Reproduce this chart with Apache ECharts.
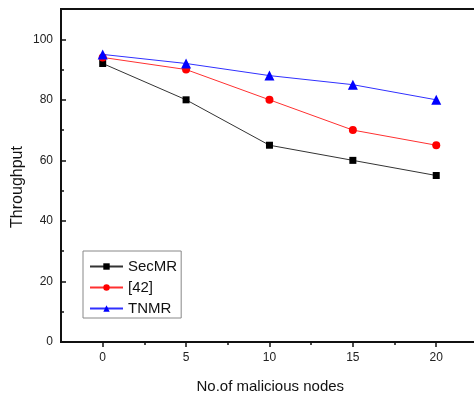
<!DOCTYPE html>
<html>
<head>
<meta charset="utf-8">
<script src="https://cdn.jsdelivr.net/npm/echarts@6/dist/echarts.min.js"></script>
<style>
  html, body { margin: 0; padding: 0; background: #fff; }
  #chart { width: 474px; height: 401px; }
</style>
</head>
<body>
<div id="chart"></div>
<script>
// values
const nodes = [0, 5, 10, 15, 20];
const secmr = [92, 80, 65, 60, 55];
const ref42 = [94, 90, 80, 70, 65];
const tnmr = [95, 92, 88, 85, 80];

const xMajor = [0, 5, 10, 15, 20];
const xMinor = [2.5, 7.5, 12.5, 17.5];
const yMajor = [0, 20, 40, 60, 80, 100];
const yMinor = [10, 30, 50, 70, 90];

const font = 'Liberation Sans, Arial, sans-serif';
const ink = '#111';

const pair = arr => arr.map((v, i) => [nodes[i], v]);

// the plot box runs past the right edge of the picture, as in the original
const baseX = {
    type: 'value', min: -2.5, max: 22.6, position: 'bottom', offset: 0,
    splitLine: {show: false}
};
const baseY = {
    type: 'value', min: 0, max: 110, position: 'left', offset: 0,
    splitLine: {show: false}
};

const chart = echarts.init(document.getElementById('chart'), null, {renderer: 'canvas'});
chart.setOption({
    animation: false,
    grid: {
        left: 61, top: 9, width: 418.6, height: 333,
        outerBoundsMode: 'none', containLabel: false,
        show: true, borderColor: ink, borderWidth: 2
    },
    xAxis: [
        Object.assign({}, baseX, {
            name: 'No.of malicious nodes',
            nameLocation: 'middle',
            nameGap: 37,
            nameTextStyle: {fontFamily: font, fontSize: 15, color: ink},
            axisLine: {onZero: false, lineStyle: {color: ink, width: 2}},
            axisTick: {customValues: xMajor, length: 5, lineStyle: {color: ink, width: 1.5}},
            axisLabel: {customValues: xMajor, margin: 10, fontFamily: font, fontSize: 12, color: '#222'}
        }),
        Object.assign({}, baseX, {
            axisLine: {show: false, onZero: false},
            axisTick: {customValues: xMinor, length: 3, lineStyle: {color: ink, width: 1.5}},
            axisLabel: {show: false}
        })
    ],
    yAxis: [
        Object.assign({}, baseY, {
            axisLine: {onZero: false, lineStyle: {color: ink, width: 2}},
            axisTick: {customValues: yMajor, inside: true, length: 5, lineStyle: {color: ink, width: 1.5}},
            axisLabel: {customValues: yMajor, margin: 8, fontFamily: font, fontSize: 12, color: '#222'}
        }),
        Object.assign({}, baseY, {
            axisLine: {show: false, onZero: false},
            axisTick: {customValues: yMinor, inside: true, length: 3, lineStyle: {color: ink, width: 1.5}},
            axisLabel: {show: false}
        })
    ],
    graphic: [{
        type: 'text',
        x: 18, y: 187,
        rotation: Math.PI / 2,
        style: {
            text: 'Throughput', fontFamily: font, fontSize: 16, fill: ink,
            align: 'center', verticalAlign: 'middle'
        }
    }],
    legend: {
        orient: 'vertical',
        left: 83, top: 251,
        padding: [8, 4, 2, 6],
        itemWidth: 33, itemHeight: 8, itemGap: 6,
        backgroundColor: '#fff',
        borderColor: '#888', borderWidth: 1, borderRadius: 0,
        textStyle: {fontFamily: font, fontSize: 15, color: ink},
        data: ['SecMR', '[42]', 'TNMR']
    },
    series: [
        {
            name: 'SecMR', type: 'line', data: pair(secmr),
            symbol: 'rect', symbolSize: 7,
            itemStyle: {color: '#000'},
            lineStyle: {color: '#333', width: 1}
        },
        {
            name: '[42]', type: 'line', data: pair(ref42),
            symbol: 'circle', symbolSize: 8,
            itemStyle: {color: '#ff0000'},
            lineStyle: {color: '#ff3030', width: 1}
        },
        {
            name: 'TNMR', type: 'line', data: pair(tnmr),
            symbol: 'triangle', symbolSize: 10,
            itemStyle: {color: '#0000ff'},
            lineStyle: {color: '#3030ff', width: 1}
        }
    ]
});
</script>
</body>
</html>
